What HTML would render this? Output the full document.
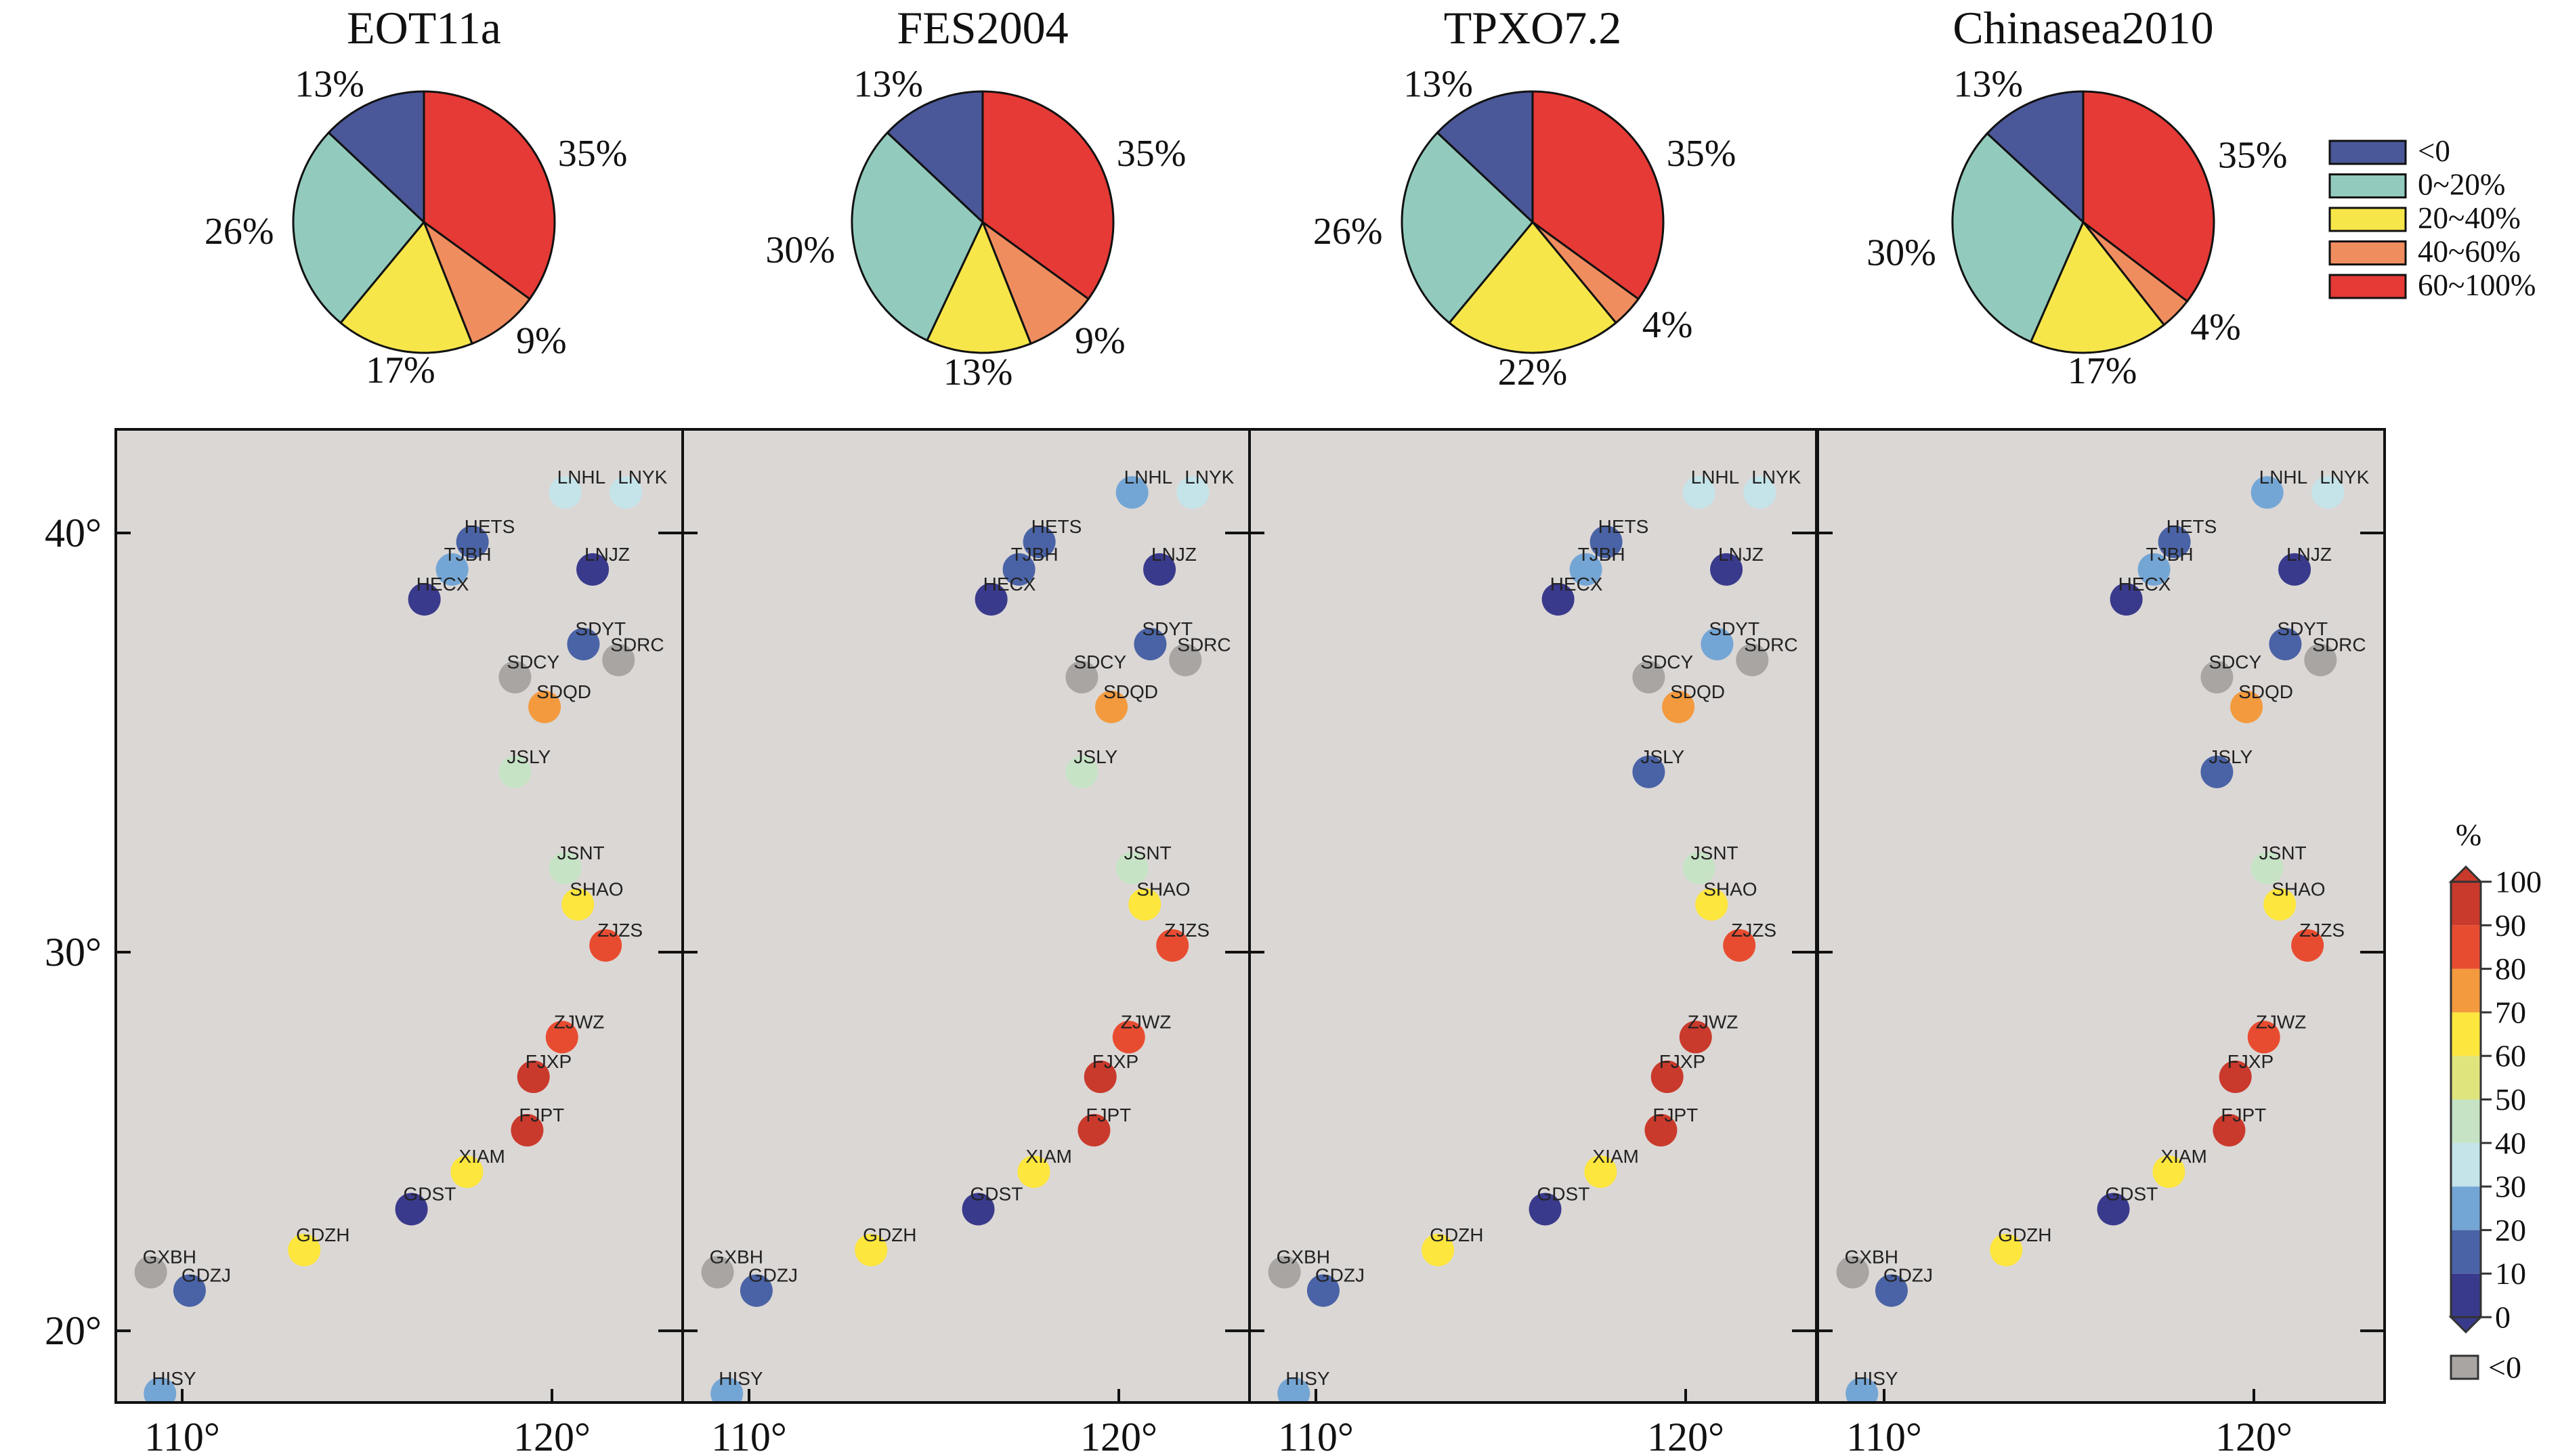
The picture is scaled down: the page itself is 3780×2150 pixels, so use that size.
<!DOCTYPE html>
<html><head><meta charset="utf-8"><style>
body{margin:0;background:#fff}
svg{display:block}
</style></head><body>
<svg id="chart" width="3780" height="2150" viewBox="0 0 3780 2150" xmlns="http://www.w3.org/2000/svg">
<g id="pies"></g>
<g id="legend"></g>
<g id="maps"></g>
<g id="cbar"></g>
</svg>
<script>
const modelNames = ["EOT11a","FES2004","TPXO7.2","Chinasea2010"];
// pie slices clockwise from top: 60~100, 40~60, 20~40, 0~20, <0
const pieEOT = [35,9,17,26,13];
const pieFES = [35,9,13,30,13];
const pieTPXO = [35,4,22,26,13];
const pieCS = [35,4,17,30,13];
const pieCategories = ["60~100%","40~60%","20~40%","0~20%","<0"];
const legendLabels = ["<0","0~20%","20~40%","40~60%","60~100%"];
const stationNames = ["LNHL","LNYK","HETS","TJBH","HECX","LNJZ","SDYT","SDRC","SDCY","SDQD","JSLY","JSNT","SHAO","ZJZS","ZJWZ","FJXP","FJPT","XIAM","GDST","GDZH","GXBH","GDZJ","HISY"];
const stationLon = [120.36,122.0,117.85,117.3,116.55,121.1,120.85,121.8,119.0,119.8,119.0,120.36,120.7,121.45,120.27,119.5,119.33,117.7,116.2,113.3,109.15,110.2,109.4];
const stationLat = [40.9,40.9,39.8,39.18,38.5,39.18,37.47,37.1,36.7,36.0,34.45,32.1,31.2,30.17,27.83,26.8,25.4,24.3,23.3,22.2,21.6,21.1,18.27];
const valEOT  = [35,35,12,22,5,5,12,-1,-1,75,45,45,65,85,85,95,95,65,5,65,-1,12,22];
const valFES  = [22,35,12,12,5,5,12,-1,-1,75,45,45,65,85,85,95,95,65,5,65,-1,12,22];
const valTPXO = [35,35,12,22,5,5,22,-1,-1,75,12,45,65,85,95,95,95,65,5,65,-1,12,22];
const valCS   = [22,35,12,22,5,5,12,-1,-1,75,12,45,65,85,85,95,95,65,5,65,-1,12,22];
const latTicks = [40,30,20];
const lonTicks = [110,120];
const cbarTicks = [0,10,20,30,40,50,60,70,80,90,100];

const NS="http://www.w3.org/2000/svg";
function mk(tag,attrs,parent){const e=document.createElementNS(NS,tag);for(const k in attrs)e.setAttribute(k,attrs[k]);parent.appendChild(e);return e;}
const pieColors=["#e53a36","#f08d5f","#f6e64a","#92cbbe","#4a5798"];
const binColors=["#3a3a8c","#4a63a6","#74a6d5","#c4e4ea","#c6e3c6","#dfe57c","#fde63e","#f39a3e","#e84c30","#c93a2c"];
const negColor="#a8a5a3";
function colorOf(v){if(v<0)return negColor;return binColors[Math.min(9,Math.floor(v/10))];}

// ---- Pies ----
const pieData=[pieEOT,pieFES,pieTPXO,pieCS];
const pieCx=[626,1451,2263,3076], pieCy=328, pieR=193;
const pies=document.getElementById('pies');
pieData.forEach((vals,p)=>{
  const g=mk('g',{},pies);
  
  
  const t=mk('text',{x:pieCx[p],y:64,'text-anchor':'middle','font-family':'Liberation Serif, serif','font-size':68,fill:'#111'},g);
  t.textContent=modelNames[p];
  
  
  const total=vals.reduce((a,b)=>a+b,0);
  let acc=0;
  vals.forEach((v,i)=>{
    const a0=acc/total*2*Math.PI, a1=(acc+v)/total*2*Math.PI; acc+=v;
    const cx=pieCx[p];
    const x0=cx+pieR*Math.sin(a0), y0=pieCy-pieR*Math.cos(a0);
    const x1=cx+pieR*Math.sin(a1), y1=pieCy-pieR*Math.cos(a1);
    const large=(a1-a0)>Math.PI?1:0;
    const s=mk('path',{d:`M${cx},${pieCy} L${x0},${y0} A${pieR},${pieR} 0 ${large} 1 ${x1},${y1} Z`,fill:pieColors[i],stroke:'#111','stroke-width':3},g);
    
    
    const am=(a0+a1)/2, R=pieR*1.15;
    const lx=cx+R*Math.sin(am), ly=pieCy-R*Math.cos(am);
    const sn=Math.sin(am);
    const anchor=Math.abs(sn)<0.3?'middle':(sn>0?'start':'end');
    const lt=mk('text',{x:lx,y:ly,'text-anchor':anchor,'dominant-baseline':'central','font-family':'Liberation Serif, serif','font-size':56,fill:'#111'},g);
    lt.textContent=v+'%';
    
    
  });
});

// ---- Legend ----
const leg=document.getElementById('legend');
const legColors=["#4a5798","#92cbbe","#f6e64a","#f08d5f","#e53a36"];
legendLabels.forEach((l,i)=>{
  const y=224+i*49.5;
  const r=mk('rect',{x:3440,y:y-16,width:112,height:34,fill:legColors[i],stroke:'#111','stroke-width':3},leg);
  
  
  const t=mk('text',{x:3570,y:y+14,'font-family':'Liberation Serif, serif','font-size':45,fill:'#111'},leg);
  t.textContent=l;
  
  
});

// ---- Maps ----
const panelLeft=[171,1008,1845,2684], panelW=837, mapTop=634, mapBot=2071;
const K=2898, Y40=787;
function merc(lat){return Math.log(Math.tan(Math.PI/4+lat*Math.PI/360));}
function yOf(lat){return Y40+(merc(40)-merc(lat))*K;}
function xOf(lon,p){return panelLeft[p]+98+(lon-110)*54.6;}
const maps=document.getElementById('maps');
const defs=mk('defs',{},maps);
const vals=[valEOT,valFES,valTPXO,valCS];
vals.forEach((vv,p)=>{
  const cp=mk('clipPath',{id:'clip'+p},defs);
  mk('rect',{x:panelLeft[p],y:mapTop,width:panelW,height:mapBot-mapTop},cp);
  const g=mk('g',{},maps);
  
  
  const bg=mk('rect',{x:panelLeft[p],y:mapTop,width:panelW,height:mapBot-mapTop,fill:'#dbd7d5'},g);
  
  
  const inner=mk('g',{'clip-path':'url(#clip'+p+')'},g);
  stationNames.forEach((n,i)=>{
    const cx=xOf(stationLon[i],p), cy=yOf(stationLat[i]);
    const c=mk('circle',{cx:cx,cy:cy,r:24,fill:colorOf(vv[i])},inner);
    
    
  });
  stationNames.forEach((n,i)=>{
    const cx=xOf(stationLon[i],p), cy=yOf(stationLat[i]);
    const t=mk('text',{x:cx-12,y:cy-13,'font-family':'Liberation Sans, sans-serif','font-size':28,fill:'#222'},inner);
    t.textContent=n;
    
    
  });
  latTicks.forEach(la=>{
    const y=yOf(la);
    mk('line',{x1:panelLeft[p],y1:y,x2:panelLeft[p]+22,y2:y,stroke:'#111','stroke-width':4},g);
    mk('line',{x1:panelLeft[p]+panelW-36,y1:y,x2:panelLeft[p]+panelW,y2:y,stroke:'#111','stroke-width':4},g);
  });
  lonTicks.forEach(lo=>{
    const x=xOf(lo,p);
    mk('line',{x1:x,y1:mapBot,x2:x,y2:mapBot-20,stroke:'#111','stroke-width':4},g);
    const t=mk('text',{x:x,y:2142,'text-anchor':'middle','font-family':'Liberation Serif, serif','font-size':60,fill:'#111'},g);
    t.textContent=lo+'°';
    
    
  });
  const fr=mk('rect',{x:panelLeft[p],y:mapTop,width:panelW,height:mapBot-mapTop,fill:'none',stroke:'#111','stroke-width':4},g);
  
  
});
latTicks.forEach(la=>{
  const t=mk('text',{x:150,y:yOf(la),'text-anchor':'end','dominant-baseline':'central','font-family':'Liberation Serif, serif','font-size':60,fill:'#111'},maps);
  t.textContent=la+'°';
  
  
});

// ---- Colorbar ----
const cb=document.getElementById('cbar');
const cbX=3619, cbW=44, cbTop=1302, cbBot=1945;
function cbY(v){return cbBot-(v/100)*(cbBot-cbTop);}
binColors.forEach((c,i)=>{
  const r=mk('rect',{x:cbX,y:cbY((i+1)*10),width:cbW,height:cbY(i*10)-cbY((i+1)*10),fill:c},cb);
  
  
});
mk('polygon',{points:`${cbX},${cbTop} ${cbX+cbW/2},${cbTop-22} ${cbX+cbW},${cbTop}`,fill:binColors[9],stroke:'#333','stroke-width':3},cb);
mk('polygon',{points:`${cbX},${cbBot} ${cbX+cbW/2},${cbBot+22} ${cbX+cbW},${cbBot}`,fill:binColors[0],stroke:'#333','stroke-width':3},cb);
mk('rect',{x:cbX,y:cbTop,width:cbW,height:cbBot-cbTop,fill:'none',stroke:'#333','stroke-width':3},cb);
cbarTicks.forEach(v=>{
  const y=cbY(v);
  mk('line',{x1:cbX+cbW,y1:y,x2:cbX+cbW+16,y2:y,stroke:'#333','stroke-width':3},cb);
  const t=mk('text',{x:3684,y:y,'dominant-baseline':'central','font-family':'Liberation Serif, serif','font-size':46,fill:'#111'},cb);
  t.textContent=v;
  
  
});
const pt=mk('text',{x:3645,y:1248,'text-anchor':'middle','font-family':'Liberation Serif, serif','font-size':46,fill:'#111'},cb);
pt.textContent='%';


const nb=mk('rect',{x:cbX,y:2002,width:40,height:34,fill:negColor,stroke:'#333','stroke-width':3},cb);


const nt=mk('text',{x:3674,y:2019,'dominant-baseline':'central','font-family':'Liberation Serif, serif','font-size':46,fill:'#111'},cb);
nt.textContent='<0';


</script>
</body></html>
